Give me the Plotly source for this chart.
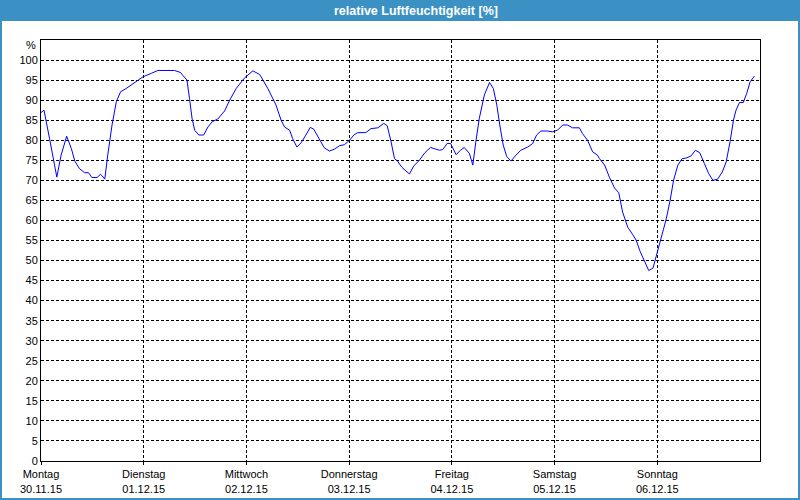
import plotly.graph_objects as go

# hours since Montag 30.11.15 00:00
hours = [0.0, 0.7, 2.0, 2.8, 3.7, 4.7, 6.0, 7.1, 7.9, 9.0, 10.2, 11.1, 11.9, 13.1, 13.9, 14.3, 14.9,
         15.6, 16.6, 17.6, 18.6, 19.9, 21.9, 23.8, 25.8, 27.3, 31.2, 32.6, 33.2, 34.1, 34.7, 35.3,
         35.9, 36.9, 38.0, 39.0, 40.0, 41.3, 42.9, 44.1, 45.6, 47.6, 49.5, 51.1, 53.0, 54.9, 56.1,
         56.9, 58.1, 58.8, 59.8, 60.8, 61.9, 62.9, 63.7, 65.1, 66.2, 67.4, 68.6, 69.7, 70.9, 72.1,
         73.1, 74.0, 75.9, 77.1, 78.7, 80.1, 80.9, 81.8, 82.6, 83.3, 84.3, 85.3, 86.1, 87.1, 88.4,
         89.7, 91.0, 91.9, 93.1, 93.9, 94.9, 95.7, 97.0, 98.0, 98.9, 100.1, 100.9, 101.6, 102.4,
         103.6, 104.8, 105.7, 106.5, 107.2, 108.0, 108.8, 109.8, 111.0, 112.1, 113.7, 114.9, 115.8,
         116.8, 118.4, 119.5, 120.7, 121.9, 123.0, 124.2, 125.8, 126.5, 127.7, 128.9, 130.0, 130.5,
         131.7, 132.8, 134.0, 135.0, 135.9, 137.1, 138.3, 139.1, 139.9, 141.0, 142.0, 143.0, 143.7,
         144.9, 146.1, 147.0, 147.8, 148.8, 149.8, 150.9, 151.9, 152.9, 153.9, 155.0, 156.0, 157.0,
         158.1, 159.2, 160.1, 161.0, 161.8, 162.4, 163.2, 164.1, 164.9, 165.7, 166.7]
humidity = [86.9, 87.5, 80.4, 75.4, 70.8, 76.3, 81.0, 77.9, 74.8, 72.9, 71.9, 71.9, 70.7, 70.7, 71.5,
            71.1, 70.3, 76.3, 83.8, 89.6, 92.1, 92.9, 94.4, 95.8, 96.7, 97.4, 97.4, 96.9, 96.1, 95.0,
            90.4, 85.4, 82.5, 81.3, 81.3, 83.3, 84.6, 85.3, 87.3, 90.0, 92.9, 95.6, 97.3, 96.4, 92.9,
            88.8, 85.0, 83.3, 82.5, 80.4, 78.3, 79.4, 81.3, 83.2, 82.8, 80.0, 78.1, 77.3, 77.8, 78.6,
            78.9, 80.0, 81.3, 81.9, 81.9, 82.9, 83.1, 84.2, 83.6, 79.6, 75.4, 74.8, 73.3, 72.3, 71.6,
            73.6, 75.0, 76.9, 78.2, 77.9, 77.5, 77.7, 79.2, 79.2, 76.4, 77.5, 78.2, 76.7, 73.8, 79.6,
            85.4, 91.3, 94.4, 92.9, 88.8, 83.8, 78.8, 76.0, 74.8, 76.3, 77.5, 78.3, 79.2, 81.3, 82.3,
            82.3, 82.1, 82.5, 83.8, 83.8, 83.1, 83.1, 81.7, 80.0, 77.1, 76.3, 75.4, 73.8, 70.8, 68.1,
            66.9, 62.1, 58.3, 56.4, 55.0, 52.5, 49.8, 47.5, 48.1, 50.8, 55.8, 60.4, 65.0, 70.0, 73.8,
            75.4, 75.6, 76.1, 77.5, 76.9, 74.2, 71.7, 70.0, 70.3, 72.1, 74.6, 79.6, 85.0, 87.5, 89.4,
            89.4, 91.7, 94.6, 96.0]

day_names = ["Montag", "Dienstag", "Mittwoch", "Donnerstag", "Freitag", "Samstag", "Sonntag"]
day_dates = ["30.11.15", "01.12.15", "02.12.15", "03.12.15", "04.12.15", "05.12.15", "06.12.15"]
day_hours = [0, 24, 48, 72, 96, 120, 144]
y_ticks = list(range(0, 101, 5))

title_text = "relative Luftfeuchtigkeit [%]"
unit_text = "%"

W, H = 800, 500
L, R, T, B = 41, 40, 40, 39
pw, ph = W - L - R, H - T - B

def px(x):
    return (x - L) / pw

def py(y):
    return (H - B - y) / ph

blue = "#3c91c4"
font = dict(family="Liberation Sans, Arial, sans-serif", size=11, color="black")

fig = go.Figure()
fig.add_trace(go.Scatter(x=hours, y=humidity, mode="lines",
                         line=dict(color="#0000ff", width=1), hoverinfo="skip"))

fig.update_layout(
    width=W, height=H,
    margin=dict(l=L, r=R, t=T, b=B, autoexpand=False),
    paper_bgcolor="white", plot_bgcolor="white",
    showlegend=False,
    font=font,
    xaxis=dict(range=[0, 168], tickmode="array", tickvals=day_hours,
               ticktext=[f"{n}<br>{d}" for n, d in zip(day_names, day_dates)],
               showgrid=True, gridcolor="black", griddash="3px,2px", gridwidth=1,
               showline=True, linecolor="black", linewidth=1, mirror=True,
               ticks="outside", ticklen=3, tickcolor="black", zeroline=False,
               automargin=False, tickfont=font),
    yaxis=dict(range=[0, 105], tickmode="array", tickvals=y_ticks,
               ticktext=[str(v) for v in y_ticks],
               showgrid=True, gridcolor="black", griddash="3px,2px", gridwidth=1,
               showline=True, linecolor="black", linewidth=1, mirror=True,
               ticks="", zeroline=False, automargin=False, tickfont=font),
    shapes=[
        dict(type="rect", xref="paper", yref="paper",
             x0=px(0), x1=px(W), y0=py(21), y1=py(0),
             fillcolor=blue, line=dict(width=0), layer="above"),
        dict(type="rect", xref="paper", yref="paper",
             x0=px(1), x1=px(W - 1), y0=py(H - 1), y1=py(1),
             fillcolor="rgba(0,0,0,0)", line=dict(color=blue, width=2), layer="above"),
    ],
    annotations=[
        dict(text="<b>" + title_text + "</b>", xref="paper", yref="paper",
             x=px(416), y=py(10.5), xanchor="center", yanchor="middle",
             showarrow=False, font=dict(family="Liberation Sans, Arial, sans-serif",
                                        size=12.5, color="white")),
        dict(text=unit_text, xref="paper", yref="paper",
             x=px(31), y=py(45), xanchor="center", yanchor="middle",
             showarrow=False, font=font),
    ],
)

post = "document.body.style.margin='0';document.body.style.overflow='hidden';"

fig.write_html("out.html", post_script=post, config={"displayModeBar": False})
